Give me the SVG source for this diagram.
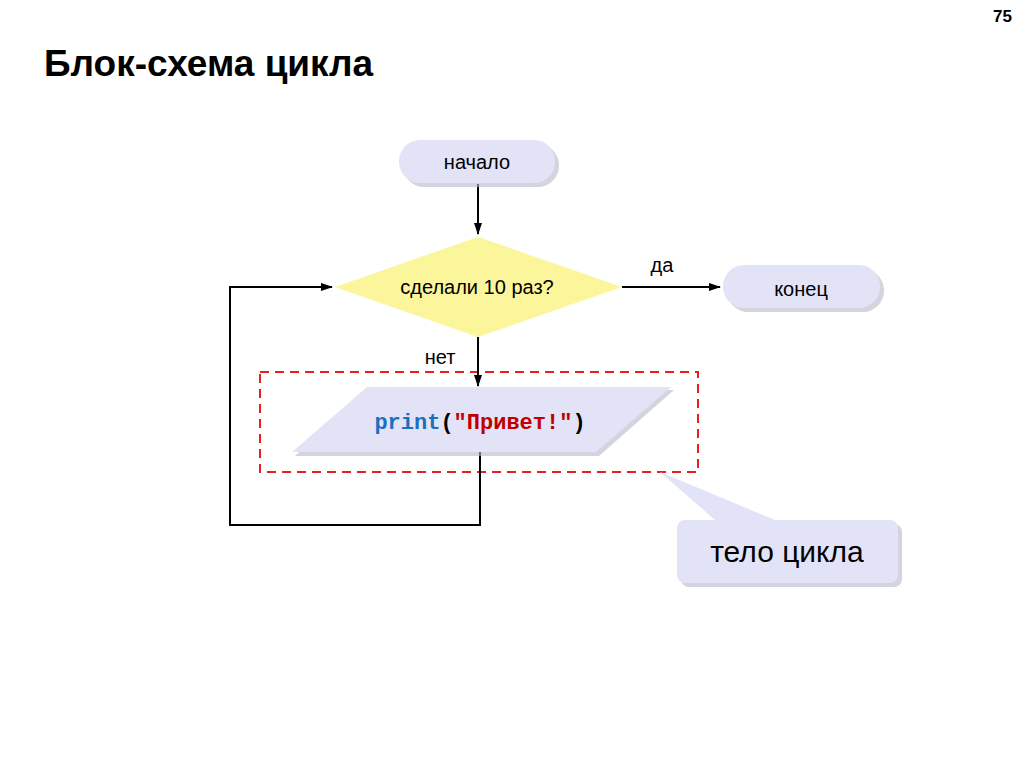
<svg xmlns="http://www.w3.org/2000/svg" width="1024" height="767" viewBox="0 0 1024 767">
<style>
.t{font-family:"Liberation Sans",Arial,sans-serif;fill:#000}
.c{stroke:#000;stroke-width:2;fill:none}
.pill{fill:#e3e3f7}
.sh{fill:#b8b8c8;opacity:.6}
</style>
<defs>
<marker id="a" markerWidth="12" markerHeight="8" refX="11" refY="4" orient="auto" markerUnits="userSpaceOnUse"><path d="M0,0L12,4L0,8z" fill="#000"/></marker>
</defs>
<rect width="1024" height="767" fill="#fff"/>
<text x="1012" y="22" class="t" font-size="17" font-weight="bold" text-anchor="end">75</text>
<text x="44" y="76" class="t" font-size="37" font-weight="bold">Блок-схема цикла</text>
<g id="loopbody">
<rect x="260" y="372" width="438" height="100" fill="none" stroke="#e82020" stroke-width="2" stroke-dasharray="9,6"/>
</g>
<g id="connectors">
<line x1="478" y1="184" x2="478" y2="234" class="c" marker-end="url(#a)"/>
<line x1="622" y1="287" x2="720" y2="287" class="c" marker-end="url(#a)"/>
<line x1="478" y1="337" x2="478" y2="386" class="c" marker-end="url(#a)"/>
<polyline points="480,452 480,525 230,525 230,287 332,287" class="c" marker-end="url(#a)"/>
</g>
<g id="start">
<rect x="403" y="144" width="156" height="43" rx="21" class="sh"/>
<rect x="399" y="140" width="156" height="43" rx="21" class="pill"/>
<text x="477" y="169" class="t" font-size="20" text-anchor="middle">начало</text>
</g>
<g id="cond">
<polygon points="478,237 622,287 478,337 335,287" fill="#fbf59b"/>
<text x="477" y="294" class="t" font-size="20" text-anchor="middle">сделали 10 раз?</text>
</g>
<text x="662" y="272" class="t" font-size="20" text-anchor="middle">да</text>
<text x="440" y="364" class="t" font-size="20" text-anchor="middle">нет</text>
<g id="end">
<rect x="727" y="269" width="157" height="43" rx="21" class="sh"/>
<rect x="723" y="265" width="157" height="43" rx="21" class="pill"/>
<text x="801" y="296" class="t" font-size="20" text-anchor="middle">конец</text>
</g>
<g id="print">
<polygon points="370,390 674,390 599,456 295,456" class="sh"/>
<polygon points="367,387 671,387 596,452 292,452" fill="#e3e3f7"/>
<text x="480" y="429" font-family="'Liberation Mono',monospace" font-size="22" font-weight="bold" text-anchor="middle"><tspan fill="#1a6fc0">print</tspan><tspan fill="#000">(</tspan><tspan fill="#c00000">"Привет!"</tspan><tspan fill="#000">)</tspan></text>
</g>
<g id="callout">
<polygon points="660,472 715,520 775,520" fill="#e3e3f7"/>
<rect x="681" y="524" width="221" height="63" rx="8" class="sh"/>
<rect x="677" y="520" width="221" height="63" rx="8" class="pill"/>
<text x="787" y="562" class="t" font-size="30" text-anchor="middle">тело цикла</text>
</g>
</svg>
